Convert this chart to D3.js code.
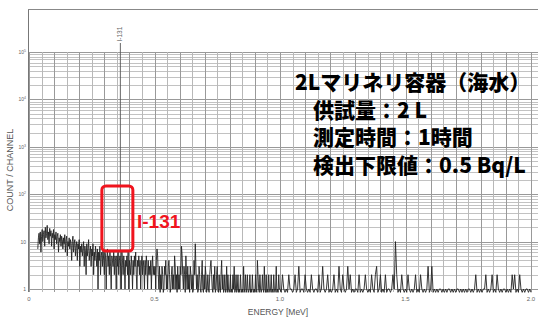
<!DOCTYPE html>
<html>
<head>
<meta charset="utf-8">
<script src="https://cdn.jsdelivr.net/npm/d3@7"></script>
<style>
  body { margin: 0; background: #fff; }
  svg { display: block; }
</style>
</head>
<body>
<svg id="chart"></svg>
<script>
// channel counts
const countsLow = [ // 0.035 - 0.4975 MeV, step 0.0025
  7,12,15,9,16,6,13,18,10,14, 17,8,20,12,15,22,11,16,9,19,
  13,17,8,15,12,18,7,14,11,16, 9,13,15,6,12,10,14,8,13,11,
  7,12,9,14,6,11,13,5,10,8, 12,7,11,9,4,10,13,6,9,11,
  5,8,10,4,9,7,11,3,8,6, 9,5,7,10,3,8,6,2,9,5,
  7,11,4,6,8,3,7,5,9,2, 6,4,8,5,3,7,1,6,4,8,
  2,5,6,3,7,4,2,6,5,1, 4,7,3,5,2,6,3,1,5,4,
  3,6,2,5,4,1,5,3,6,2, 4,5,3,1,6,4,2,5,3,1,
  4,3,5,2,6,1,4,3,2,5, 3,1,4,2,5,3,6,2,1,4,
  3,5,2,4,1,3,5,2,4,3, 1,4,2,5,3,1,4,2,3,2,
  4,1,3,5,2,3
];
const countsMid1 = [ // 0.500 - 0.9975 MeV, step 0.0025
  2,3,1,4,7,5,2,1,3,0, 2,1,3,2,0,1,3,2,4,1,
  2,1,3,4,2,0,1,2,3,1, 2,1,5,3,1,2,0,3,1,2,
  1,3,2,8,5,2,1,3,2,0, 5,2,1,3,1,2,0,3,2,1,
  2,0,1,4,2,9,3,1,2,0, 1,3,2,1,0,2,4,1,0,2,
  1,3,2,0,1,2,1,0,2,3, 4,2,1,0,2,1,3,0,1,2,
  3,1,0,2,1,0,2,4,1,2, 0,1,2,0,1,3,0,2,1,0,
  1,2,0,1,0,2,1,3,0,1, 2,0,1,2,0,1,0,2,1,0,
  1,0,3,1,0,2,1,0,2,1, 0,1,2,0,1,0,2,1,0,1,
  0,2,1,0,4,2,1,0,2,1, 0,1,2,1,0,3,1,0,2,0,
  1,0,2,1,0,1,2,0,1,0, 2,1,0,1,3,0,1,0,2,1
];
const countsMid2 = [ // 1.000 - 1.495 MeV, step 0.005
  1,0,2,1,0,1,0,2,1,1, 0,1,2,0,1,3,0,1,1,0,
  2,1,0,1,0,2,1,0,1,1, 0,2,0,1,3,1,0,1,2,0,
  1,0,1,2,0,1,0,3,1,0, 2,1,0,1,3,1,2,0,1,0,
  1,1,0,2,0,1,0,1,2,1, 0,1,0,2,1,0,2,3,0,1,
  2,0,1,0,2,0,1,1,0,1, 2,1,10,2,0,1,0,2,1,0
];
const countsHigh = [ // 1.500 - 2.000 MeV, step 0.005
  1,0,2,1,0,1,0,1,2,0, 1,0,2,1,0,1,0,1,3,0,
  1,3,0,1,0,1,0,1,1,0, 1,0,1,0,1,1,0,1,0,1,
  0,1,1,0,1,0,1,0,1,0, 1,1,0,1,0,1,2,0,1,0,
  1,0,1,1,2,0,1,0,1,2, 0,1,0,2,1,0,1,0,1,1,
  0,1,0,1,0,2,1,2,0,1, 0,2,1,0,1,0,1,1,0,1, 0
];
const segmentStarts = [0.035, 0.5, 1.0, 1.5];
const segmentSteps = [0.0025, 0.0025, 0.005, 0.005];
const xTicks = [0, 0.5, 1.0, 1.5, 2.0];
const xTickLabels = ["0", "0.5", "1.0", "1.5", "2.0"];
const yDecades = [1, 10, 100, 1000, 10000, 100000];
const yTickExp = ["", "", "2", "3", "4", "5"];
const yTickBase = ["1", "10", "10", "10", "10", "10"];
const peakName = "I-131";
const peakEnergy = 0.364;
const infoLines = ["2Lマリネリ容器（海水）", "供試量：2 L", "測定時間：1時間", "検出下限値：0.5 Bq/L"];

const W = 538, H = 318;
const svg = d3.select("#chart").attr("width", W).attr("height", H);

const x = d3.scaleLinear().domain([0, 2]).range([29, 531]);
const y = d3.scaleLog().domain([1, 1e5]).range([289, 52]);
const floorVal = 0.85;

// build channel table
const segs = [countsLow, countsMid1, countsMid2, countsHigh];
const spectrum = [];
segs.forEach((arr, s) => {
  arr.forEach((c, i) => spectrum.push({ e: segmentStarts[s] + i * segmentSteps[s], c: c }));
});

// grid
const grid = svg.append("g").attr("shape-rendering", "crispEdges");
const hVals = [];
yDecades.slice(0, 5).forEach(d => { for (let m = 1; m <= 9; m++) hVals.push(m * d); });
hVals.push(1e5);
grid.selectAll("line.h").data(hVals).enter().append("line")
  .attr("x1", x(0) - 1).attr("x2", W)
  .attr("y1", d => Math.round(y(d)) + 0.5).attr("y2", d => Math.round(y(d)) + 0.5)
  .attr("stroke", d => yDecades.includes(d) ? "#999" : "#c2c2c2")
  .attr("stroke-width", 1);

const vVals = d3.range(0, 41).map(i => i * 0.05);
grid.selectAll("line.v").data(vVals).enter().append("line")
  .attr("x1", d => Math.round(x(d)) + 0.5).attr("x2", d => Math.round(x(d)) + 0.5)
  .attr("y1", y(1e5)).attr("y2", 292)
  .attr("stroke", (d, i) => i % 2 === 0 ? "#999" : "#b8b8b8")
  .attr("stroke-width", 1);

// frame: left edge and top line
grid.append("line").attr("x1", 28.5).attr("x2", 28.5).attr("y1", 9).attr("y2", 292)
  .attr("stroke", "#777");
grid.append("line").attr("x1", 28).attr("x2", W).attr("y1", 9.5).attr("y2", 9.5)
  .attr("stroke", "#888");

// peak marker
svg.append("line")
  .attr("x1", x(peakEnergy)).attr("x2", x(peakEnergy))
  .attr("y1", 43).attr("y2", y(1))
  .attr("stroke", "#555").attr("stroke-width", 0.9);
svg.append("text")
  .attr("transform", `translate(${x(peakEnergy) + 2},41.5) rotate(-90)`)
  .attr("font-family", "Liberation Sans, Arial, sans-serif")
  .attr("font-size", 6.5).attr("fill", "#666")
  .text(peakName);

// spectrum
const line = d3.line()
  .x(d => x(d.e))
  .y(d => y(Math.max(d.c, floorVal)));
svg.append("path")
  .datum(spectrum)
  .attr("d", line)
  .attr("fill", "none")
  .attr("stroke", "#222")
  .attr("stroke-width", 0.9);

// axis labels
const tickFont = "Liberation Sans, Arial, sans-serif";
svg.selectAll("text.xt").data(xTicks).enter().append("text")
  .attr("x", d => x(d)).attr("y", 301)
  .attr("text-anchor", "middle")
  .attr("font-family", tickFont).attr("font-size", 6).attr("fill", "#666")
  .text((d, i) => xTickLabels[i]);

const yt = svg.selectAll("text.yt").data(yDecades).enter().append("text")
  .attr("x", 26).attr("y", d => y(d) + 2)
  .attr("text-anchor", "end")
  .attr("font-family", tickFont).attr("font-size", 5).attr("fill", "#666");
yt.append("tspan").text((d, i) => yTickBase[i]);
yt.append("tspan").attr("dy", -2).attr("font-size", 3.5).text((d, i) => yTickExp[i]);

svg.append("text")
  .attr("transform", `translate(13,170) rotate(-90)`)
  .attr("text-anchor", "middle")
  .attr("font-family", tickFont).attr("font-size", 9).attr("fill", "#555")
  .text("COUNT / CHANNEL");

svg.append("text")
  .attr("x", 278).attr("y", 315)
  .attr("text-anchor", "middle")
  .attr("font-family", tickFont).attr("font-size", 8.5).attr("fill", "#555")
  .text("ENERGY [MeV]");

// red highlight box
svg.append("rect")
  .attr("x", x(peakEnergy) - 18.5).attr("y", 186)
  .attr("width", 31).attr("height", 65).attr("rx", 4)
  .attr("fill", "none").attr("stroke", "#f0141e").attr("stroke-width", 3);
svg.append("text")
  .attr("x", 137).attr("y", 228)
  .attr("font-family", "Liberation Sans, Arial, sans-serif")
  .attr("font-weight", "bold").attr("font-size", 19).attr("fill", "#f0141e")
  .text(peakName);

// info block
const info = svg.append("g")
  .attr("font-family", "Noto Sans CJK JP, sans-serif")
  .attr("font-weight", 900).attr("font-size", 21).attr("fill", "#000");
info.selectAll("text").data(infoLines).enter().append("text")
  .attr("x", (d, i) => i === 0 ? 295 : 313)
  .attr("y", (d, i) => 90 + i * 27.7)
  .text(d => d);
</script>
</body>
</html>
